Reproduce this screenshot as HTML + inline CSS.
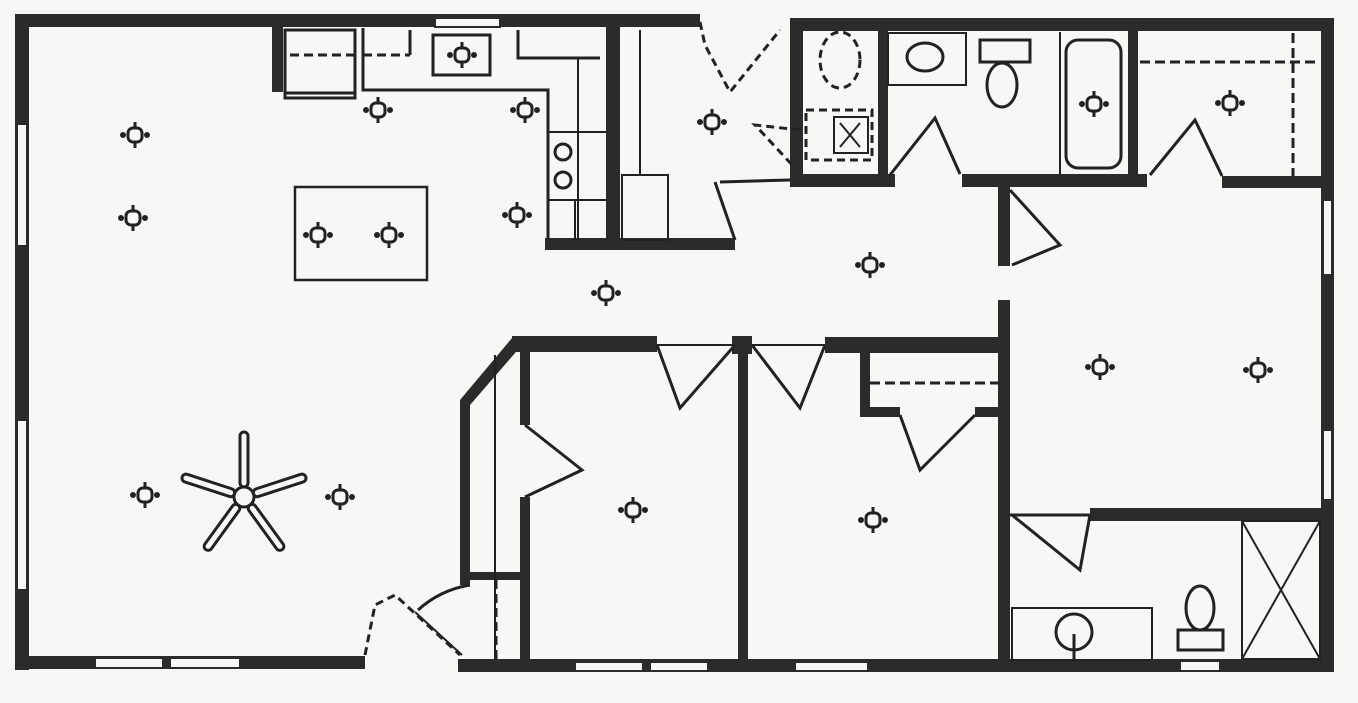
<!DOCTYPE html>
<html><head><meta charset="utf-8"><style>
html,body{margin:0;padding:0;background:#f7f7f5;}
svg{display:block}
</style></head><body>
<svg width="1358" height="703" viewBox="0 0 1358 703" xmlns="http://www.w3.org/2000/svg">
<defs>
<g id="L" fill="none" stroke="#222" stroke-width="3">
<rect x="-7" y="-7" width="14" height="14" rx="5"/>
<line x1="0" y1="-7" x2="0" y2="-13"/><line x1="0" y1="7" x2="0" y2="13"/>
<circle cx="-12" cy="0" r="1.5" fill="#222"/><circle cx="12" cy="0" r="1.5" fill="#222"/>
</g>
</defs>
<rect width="1358" height="703" fill="#f7f7f5"/>
<g fill="#2b2b2b">
<!-- outer walls -->
<rect x="15" y="14" width="685" height="13"/>
<rect x="790" y="18" width="542" height="13"/>
<rect x="15" y="14" width="14" height="656"/>
<rect x="1321" y="18" width="13" height="654"/>
<rect x="15" y="656" width="350" height="13"/>
<rect x="458" y="659" width="876" height="13"/>
<!-- kitchen -->
<rect x="272" y="27" width="11" height="65"/>
<rect x="606" y="27" width="14" height="220"/>
<rect x="545" y="238" width="190" height="12"/>
<!-- bath strip -->
<rect x="790" y="18" width="13" height="168"/>
<rect x="878" y="30" width="10" height="155"/>
<rect x="1128" y="30" width="10" height="155"/>
<rect x="790" y="174" width="105" height="13"/>
<rect x="962" y="174" width="185" height="13"/>
<rect x="1222" y="176" width="110" height="12"/>
<!-- hall right wall -->
<rect x="998" y="186" width="12" height="80"/>
<rect x="998" y="300" width="12" height="372"/>
<!-- middle horizontal -->
<rect x="512" y="336" width="145" height="16"/>
<rect x="732" y="336" width="20" height="18"/>
<rect x="825" y="337" width="185" height="16"/>
<rect x="860" y="353" width="10" height="62"/>
<rect x="860" y="407" width="40" height="10"/>
<rect x="975" y="407" width="30" height="10"/>
<!-- verticals -->
<rect x="738" y="350" width="10" height="318"/>
<rect x="520" y="350" width="10" height="75"/>
<rect x="520" y="497" width="10" height="170"/>
<rect x="460" y="400" width="10" height="185"/>
<rect x="470" y="572" width="55" height="8"/>
<!-- lower bath -->
<rect x="1090" y="508" width="242" height="13"/>
</g>
<polygon points="512,338 522,345 470,405 460,400" fill="#2b2b2b"/>
<g fill="#f7f7f5" stroke="#2b2b2b" stroke-width="2">
<rect x="17" y="124" width="10" height="122"/>
<rect x="17" y="420" width="10" height="170"/>
<rect x="95" y="658" width="68" height="10"/>
<rect x="170" y="658" width="70" height="10"/>
<rect x="575" y="662" width="68" height="9"/>
<rect x="650" y="662" width="58" height="9"/>
<rect x="795" y="662" width="73" height="9"/>
<rect x="1323" y="200" width="9" height="75"/>
<rect x="1323" y="430" width="9" height="70"/>
<rect x="1180" y="661" width="40" height="10"/>
<rect x="435" y="18" width="65" height="9"/>
</g>
<g fill="none" stroke="#222" stroke-width="3">
<!-- kitchen counters -->
<rect x="285" y="30" width="70" height="68"/>
<line x1="285" y1="93" x2="355" y2="93"/>
<polyline points="363,28 363,90 548,90 548,240"/>
<polyline points="518,30 518,58 600,58"/>
<line x1="578" y1="58" x2="578" y2="240" stroke-width="2"/>
<line x1="548" y1="132" x2="606" y2="132" stroke-width="2"/>
<line x1="548" y1="200" x2="606" y2="200" stroke-width="2"/>
<line x1="575" y1="200" x2="575" y2="240" stroke-width="2"/>
<circle cx="563" cy="152" r="8"/><circle cx="563" cy="180" r="8"/>
<rect x="433" y="35" width="57" height="40"/>
<line x1="290" y1="55" x2="355" y2="55" stroke-dasharray="9,5"/>
<line x1="363" y1="55" x2="410" y2="55" stroke-dasharray="9,5"/>
<line x1="410" y1="30" x2="410" y2="55"/>
<rect x="295" y="187" width="132" height="93" stroke-width="2.5"/>
<!-- closet right of kitchen -->
<line x1="640" y1="30" x2="640" y2="175" stroke-width="2"/>
<rect x="622" y="175" width="46" height="65" stroke-width="2"/>
<line x1="720" y1="182" x2="790" y2="180"/>
<polyline points="715,182 735,240"/>
<polyline points="700,22 705,45 730,92 780,30" stroke-dasharray="8,5"/>
<polyline points="800,130 755,125 795,168" stroke-dasharray="8,5"/>
<!-- laundry -->
<ellipse cx="840" cy="60" rx="20" ry="28" stroke-dasharray="8,5"/>
<rect x="806" y="110" width="66" height="50" stroke-dasharray="8,5"/>
<rect x="834" y="117" width="34" height="36" stroke-width="2"/>
<path d="M840 123 l20 24 M860 123 l-20 24" stroke-width="2"/>
<!-- bath -->
<rect x="888" y="33" width="78" height="52" stroke-width="2"/>
<ellipse cx="925" cy="57" rx="18" ry="14"/>
<rect x="980" y="40" width="50" height="22"/>
<ellipse cx="1002" cy="85" rx="15" ry="22"/>
<line x1="1060" y1="32" x2="1060" y2="175" stroke-width="2"/>
<rect x="1066" y="40" width="55" height="128" rx="12"/>
<polyline points="890,175 935,118 960,174"/>
<polyline points="1150,175 1195,120 1222,176"/>
<line x1="1140" y1="62" x2="1320" y2="62" stroke-dasharray="10,5"/>
<line x1="1293" y1="33" x2="1293" y2="176" stroke-dasharray="10,5"/>
<!-- hall door -->
<polyline points="1010,190 1060,245 1012,265"/>
<!-- middle -->
<line x1="657" y1="345" x2="735" y2="345" stroke-width="2"/>
<line x1="752" y1="345" x2="825" y2="345" stroke-width="2"/>
<polyline points="657,345 680,408 735,345"/>
<polyline points="752,345 800,408 825,345"/>
<line x1="870" y1="383" x2="1000" y2="383" stroke-dasharray="10,5"/>
<polyline points="900,415 920,470 975,415"/>
<polyline points="525,425 582,470 525,497"/>
<line x1="495" y1="355" x2="495" y2="660" stroke-width="2"/>
<line x1="496" y1="580" x2="496" y2="660" stroke-dasharray="9,5"/>
<polyline points="365,655 375,605 395,595 460,655" stroke-dasharray="8,5"/>
<line x1="415" y1="612" x2="462" y2="655" stroke-width="2"/>
<path d="M418 610 Q440 590 470 585"/>
<!-- lower bath -->
<line x1="1010" y1="515" x2="1090" y2="515"/>
<polyline points="1090,515 1080,570 1012,515"/>
<rect x="1012" y="608" width="140" height="52" stroke-width="2"/>
<circle cx="1074" cy="632" r="18"/>
<line x1="1074" y1="634" x2="1074" y2="660"/>
<ellipse cx="1200" cy="608" rx="14" ry="22"/>
<rect x="1178" y="630" width="45" height="20"/>
<rect x="1242" y="521" width="78" height="138" stroke-width="2"/>
<path d="M1242 521 L1320 659 M1320 521 L1242 659" stroke-width="2"/>
<!-- fan -->
<circle cx="244" cy="497" r="10"/>
<rect x="240" y="432" width="8" height="55" rx="4"/>
<rect x="240" y="432" width="8" height="55" rx="4" transform="rotate(72 244 497)"/>
<rect x="240" y="432" width="8" height="55" rx="4" transform="rotate(144 244 497)"/>
<rect x="240" y="432" width="8" height="55" rx="4" transform="rotate(216 244 497)"/>
<rect x="240" y="432" width="8" height="55" rx="4" transform="rotate(288 244 497)"/>
</g>
<g>
<use href="#L" x="135" y="135"/><use href="#L" x="133" y="218"/>
<use href="#L" x="378" y="110"/><use href="#L" x="525" y="110"/>
<use href="#L" x="517" y="215"/><use href="#L" x="318" y="235"/>
<use href="#L" x="389" y="235"/><use href="#L" x="606" y="293"/>
<use href="#L" x="712" y="122"/><use href="#L" x="870" y="265"/>
<use href="#L" x="462" y="55"/>
<use href="#L" x="1094" y="104"/><use href="#L" x="1230" y="103"/>
<use href="#L" x="1100" y="367"/><use href="#L" x="1258" y="370"/>
<use href="#L" x="145" y="495"/><use href="#L" x="340" y="497"/>
<use href="#L" x="633" y="510"/><use href="#L" x="873" y="520"/>
</g>
</svg>
</body></html>
